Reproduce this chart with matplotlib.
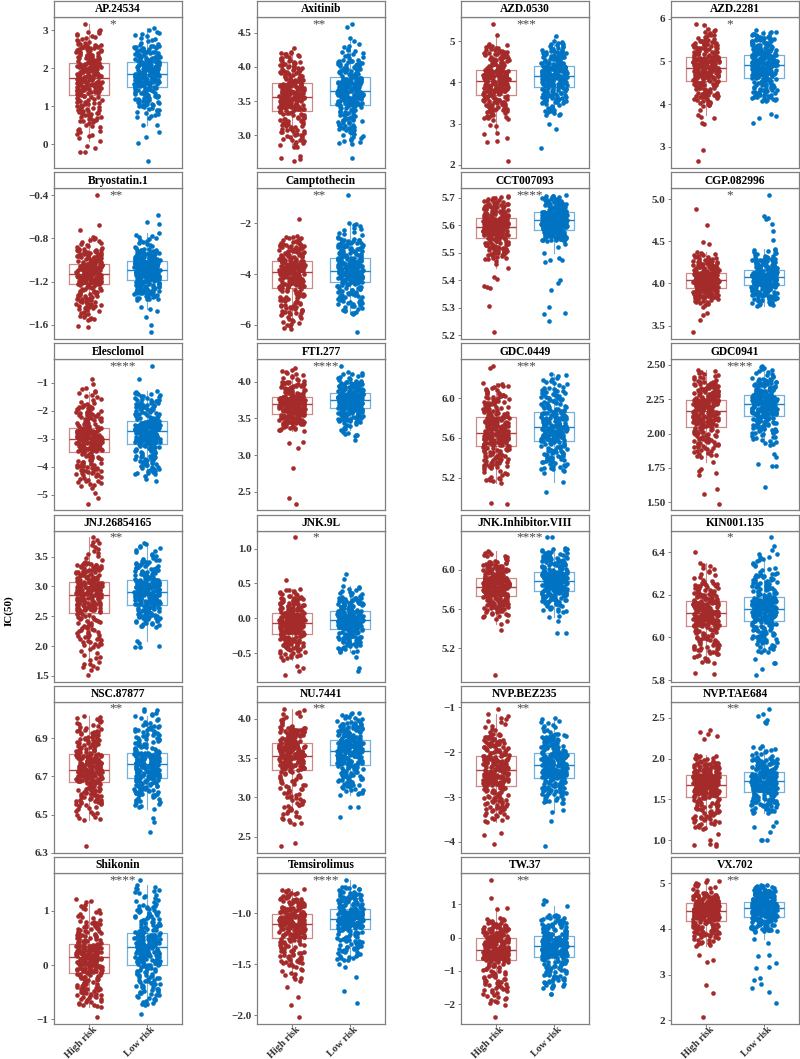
import numpy as np
import matplotlib
matplotlib.use("Agg")
import matplotlib.pyplot as plt
from matplotlib.transforms import ScaledTranslation

plt.rcParams['font.family'] = ['Liberation Serif', 'DejaVu Serif']

GROUPS = ["High risk", "Low risk"]
DRUGS = ["AP.24534", "Axitinib", "AZD.0530", "AZD.2281",
         "Bryostatin.1", "Camptothecin", "CCT007093", "CGP.082996",
         "Elesclomol", "FTI.277", "GDC.0449", "GDC0941",
         "JNJ.26854165", "JNK.9L", "JNK.Inhibitor.VIII", "KIN001.135",
         "NSC.87877", "NU.7441", "NVP.BEZ235", "NVP.TAE684",
         "Shikonin", "Temsirolimus", "TW.37", "VX.702"]
SIGNIF = ["*", "**", "***", "*", "**", "**", "****", "*",
          "****", "****", "***", "****", "**", "*", "****", "*",
          "**", "**", "**", "**", "****", "****", "**", "**"]

# estimated quantiles of each group: [low whisker, p5, Q1, median, Q3, p95, high whisker]
QUANT_PROBS = [0.0, 0.05, 0.25, 0.5, 0.75, 0.95, 1.0]
HIGH_Q = [
    [0.18, 0.6, 1.36, 1.75, 2.15, 2.65, 3.0],
    [2.82, 2.98, 3.38, 3.56, 3.76, 4.1, 4.22],
    [3.1, 3.3, 3.74, 4.04, 4.31, 4.75, 4.92],
    [3.95, 4.15, 4.59, 4.85, 5.10, 5.5, 5.75],
    [-1.56, -1.45, -1.22, -1.13, -1.04, -0.9, -0.79],
    [-6.1, -5.6, -4.52, -3.93, -3.50, -2.8, -2.5],
    [5.477, 5.5, 5.564, 5.597, 5.628, 5.68, 5.706],
    [3.75, 3.83, 3.95, 4.04, 4.12, 4.28, 4.37],
    [-4.69, -4.3, -3.42, -3.0, -2.62, -1.8, -1.19],
    [3.33, 3.42, 3.58, 3.70, 3.79, 4.0, 4.18],
    [5.15, 5.3, 5.53, 5.65, 5.81, 6.05, 6.15],
    [1.83, 1.9, 2.07, 2.17, 2.25, 2.38, 2.46],
    [1.6, 2.0, 2.58, 2.86, 3.08, 3.4, 3.78],
    [-0.57, -0.45, -0.21, -0.07, 0.07, 0.3, 0.42],
    [5.52, 5.6, 5.74, 5.83, 5.92, 6.08, 6.19],
    [5.88, 5.93, 6.055, 6.117, 6.173, 6.26, 6.35],
    [6.47, 6.55, 6.671, 6.736, 6.816, 6.95, 7.017],
    [2.66, 2.85, 3.36, 3.53, 3.69, 3.9, 4.13],
    [-3.55, -3.3, -2.72, -2.40, -2.08, -1.6, -1.16],
    [1.14, 1.25, 1.545, 1.68, 1.79, 1.95, 2.04],
    [-0.77, -0.6, -0.15, 0.14, 0.37, 0.8, 1.11],
    [-1.66, -1.5, -1.23, -1.10, -1.0, -0.85, -0.76],
    [-1.97, -1.6, -0.67, -0.37, -0.05, 0.4, 0.58],
    [3.65, 3.85, 4.21, 4.41, 4.56, 4.78, 5.07],
]
HIGH_OUT = [
    [3.17, 2.93, 0.1, -0.05, -0.1, -0.2, -0.2],
    [4.28, 2.70, 2.67, 2.65, 2.62],
    [5.42, 5.16, 2.96, 2.95, 2.77, 2.75, 2.65, 2.59, 2.55, 2.09],
    [5.88, 5.85, 3.85, 3.75, 3.7, 3.68, 3.55, 3.52, 2.93, 2.66],
    [-0.4, -0.68, -0.72, -1.61, -1.62],
    [-1.82, -6.16],
    [5.47, 5.46, 5.446, 5.41, 5.405, 5.38, 5.375, 5.37, 5.307, 5.21],
    [4.89, 4.70, 4.49, 4.47, 3.72, 3.65, 3.62, 3.57, 3.42],
    [-0.89, -1.05, -4.75, -4.95, -5.11, -5.32],
    [3.17, 3.18, 3.10, 2.83, 2.42, 2.34],
    [6.32, 6.30, 5.19, 5.18, 4.94, 4.95],
    [1.79, 1.74, 1.73, 1.71, 1.70, 1.595, 1.56, 1.49],
    [3.82, 1.52, 1.65, 1.7],
    [1.16, 0.55, -0.6, -0.68, -0.72, -0.75, -0.81],
    [5.5, 5.48, 5.45, 5.39, 4.93],
    [6.40, 5.83, 5.835],
    [6.336],
    [2.42, 2.38],
    [-1.03, -3.80, -3.85, -4.05],
    [2.35, 2.33, 2.30, 2.27, 2.24, 1.08, 1.0, 0.95, 0.94, 0.93, 0.95],
    [1.22, 1.18, 1.17, -0.96],
    [-1.72, -1.82, -1.90, -2.02],
    [1.73, 1.18, 0.88, 0.87, -2.04, -2.39],
    [3.62, 3.43, 3.32, 3.28, 2.77, 2.59, 2.07],
]
LOW_Q = [
    [0.7, 1.0, 1.55, 1.87, 2.17, 2.6, 3.0],
    [2.87, 3.05, 3.44, 3.64, 3.83, 4.1, 4.3],
    [3.22, 3.5, 3.92, 4.17, 4.41, 4.8, 5.0],
    [4.07, 4.2, 4.64, 4.92, 5.16, 5.55, 5.7],
    [-1.37, -1.32, -1.18, -1.09, -1.02, -0.9, -0.79],
    [-5.57, -5.2, -4.31, -3.87, -3.37, -2.6, -1.97],
    [5.543, 5.555, 5.591, 5.624, 5.648, 5.69, 5.71],
    [3.75, 3.82, 3.98, 4.07, 4.15, 4.3, 4.41],
    [-4.28, -4.0, -3.17, -2.73, -2.40, -1.6, -1.31],
    [3.26, 3.45, 3.64, 3.75, 3.84, 4.0, 4.13],
    [5.27, 5.35, 5.58, 5.71, 5.86, 6.1, 6.24],
    [1.92, 2.0, 2.14, 2.22, 2.285, 2.4, 2.49],
    [2.32, 2.45, 2.71, 2.91, 3.11, 3.45, 3.73],
    [-0.49, -0.38, -0.15, -0.03, 0.10, 0.3, 0.46],
    [5.57, 5.65, 5.79, 5.89, 5.98, 6.15, 6.22],
    [5.93, 5.98, 6.08, 6.133, 6.181, 6.3, 6.377],
    [6.54, 6.6, 6.70, 6.767, 6.823, 6.97, 7.055],
    [3.03, 3.15, 3.43, 3.59, 3.73, 3.95, 4.08],
    [-3.14, -2.95, -2.54, -2.27, -2.02, -1.6, -1.24],
    [1.33, 1.42, 1.61, 1.72, 1.83, 2.0, 2.15],
    [-0.74, -0.55, 0.0, 0.32, 0.56, 1.1, 1.39],
    [-1.46, -1.38, -1.14, -1.055, -0.96, -0.8, -0.73],
    [-1.52, -1.3, -0.57, -0.27, 0.01, 0.5, 0.68],
    [3.94, 4.02, 4.31, 4.47, 4.60, 4.85, 4.96],
]
LOW_OUT = [
    [3.05, 0.52, 0.5, 0.32, 0.2, 0.05, -0.44],
    [4.63, 4.59, 4.42, 4.38, 4.33, 2.67],
    [5.12, 3.3, 3.2, 2.98, 2.87, 2.41],
    [5.74, 3.76, 3.72, 3.68, 3.55],
    [-0.58, -0.65, -0.67, -0.75, -0.77, -0.78, -1.44, -1.45, -1.47, -1.53, -1.6, -1.67],
    [-0.89, -6.29],
    [5.53, 5.52, 5.498, 5.48, 5.475, 5.473, 5.465, 5.40, 5.39, 5.366, 5.304, 5.28, 5.275, 5.253],
    [5.05, 4.80, 4.78, 4.76, 4.71, 4.62, 4.52, 3.74, 3.73],
    [-0.42, -0.87, -4.35, -4.46, -4.52],
    [4.21, 3.28, 3.21],
    [5.25, 5.16, 5.06],
    [1.85, 1.83, 1.78, 1.76, 1.76, 1.61],
    [2.09, 2.05, 2.0, 1.98, 1.98],
    [0.64, 0.57, -0.56, -0.71, -0.76],
    [6.33, 6.33, 5.53, 5.52, 5.48, 5.36, 5.36],
    [6.47, 6.43, 6.41, 6.39, 6.39, 6.38, 5.897, 5.88, 5.88, 5.853, 5.825],
    [6.53, 6.48, 6.46, 6.41],
    [2.88, 2.87, 2.75],
    [-3.33, -3.3, -3.53, -4.09],
    [2.61, 2.55, 2.52, 2.47, 2.45, 2.44, 1.22, 1.17, 1.16, 1.1, 1.0, 1.0, 1.0],
    [1.57, 1.47, 1.43, 1.42, 1.40, -0.91],
    [-0.67, -1.5, -1.53, -1.63, -1.76, -1.88],
    [1.11, 1.12, 1.0, 0.95, -1.70, -1.70],
    [3.78, 3.70, 3.43, 3.40, 3.25, 3.17, 3.15, 2.92, 2.88, 2.80, 2.70, 2.62, 2.37],
]
YTICKS = [
    ["0", "1", "2", "3"], ["3.0", "3.5", "4.0", "4.5"], ["2", "3", "4", "5"], ["3", "4", "5", "6"],
    ["-1.6", "-1.2", "-0.8", "-0.4"], ["-6", "-4", "-2"], ["5.2", "5.3", "5.4", "5.5", "5.6", "5.7"],
    ["3.5", "4.0", "4.5", "5.0"],
    ["-5", "-4", "-3", "-2", "-1"], ["2.5", "3.0", "3.5", "4.0"], ["5.2", "5.6", "6.0"],
    ["1.50", "1.75", "2.00", "2.25", "2.50"],
    ["1.5", "2.0", "2.5", "3.0", "3.5"], ["-0.5", "0.0", "0.5", "1.0"], ["5.2", "5.6", "6.0"],
    ["5.8", "6.0", "6.2", "6.4"],
    ["6.3", "6.5", "6.7", "6.9"], ["2.5", "3.0", "3.5", "4.0"], ["-4", "-3", "-2", "-1"],
    ["1.0", "1.5", "2.0", "2.5"],
    ["-1", "0", "1"], ["-2.0", "-1.5", "-1.0"], ["-2", "-1", "0", "1"], ["2", "3", "4", "5"],
]

COLORS = ["#A52A2A", "#0073C2"]
N_CORE = 250
W, H = 800, 1059
COL_LEFT = [54, 257, 461, 671]
PANEL_W = 128
ROW_PITCH = 171.2
STRIP_H = 16
PANEL_H = 151
BORDER = "#7f7f7f"


def group_values(q, extra):
    p = np.linspace(0, 1, N_CORE)
    core = np.interp(p, QUANT_PROBS, q)
    return np.concatenate([core, np.asarray(extra, float)])


rng = np.random.default_rng(11)
fig = plt.figure(figsize=(W / 100, H / 100), dpi=100)

for i, drug in enumerate(DRUGS):
    r, c = divmod(i, 4)
    top = 1 + ROW_PITCH * r
    left = COL_LEFT[c]
    ax = fig.add_axes([left / W, 1 - (top + STRIP_H + PANEL_H) / H, PANEL_W / W, PANEL_H / H])
    sax = fig.add_axes([left / W, 1 - (top + STRIP_H) / H, PANEL_W / W, STRIP_H / H])
    sax.set_xticks([]); sax.set_yticks([])
    for sp in sax.spines.values():
        sp.set_color(BORDER); sp.set_linewidth(0.9)
    sax.text(0.5, 0.47, drug, ha='center', va='center', fontsize=8.3, fontweight='bold',
             color='black', transform=sax.transAxes)

    groups = [group_values(HIGH_Q[i], HIGH_OUT[i]), group_values(LOW_Q[i], LOW_OUT[i])]
    for g, vals in enumerate(groups):
        xj = (g + 1) + rng.uniform(-0.22, 0.22, len(vals))
        ax.scatter(xj, vals, s=11, color=COLORS[g], linewidths=0, zorder=2)
    bp = ax.boxplot(groups, positions=[1, 2], widths=0.7, showfliers=False,
                    manage_ticks=False, whis=1.5)
    for g in range(2):
        col = COLORS[g]
        bp['boxes'][g].set(color=col, alpha=0.55, linewidth=0.9, zorder=3)
        bp['medians'][g].set(color=col, alpha=0.9, linewidth=1.0, zorder=3)
        for k in (2 * g, 2 * g + 1):
            bp['whiskers'][k].set(color=col, alpha=0.55, linewidth=0.8, zorder=3)
            bp['caps'][k].set_visible(False)

    ax.set_xlim(0.4, 2.6)
    ax.margins(y=0.05)
    ax.autoscale(axis='y')
    ymax = max(v.max() for v in groups)
    ax.text(1.36, ymax, SIGNIF[i], ha='left', va='center', fontsize=9.5, color='#444444')

    ticks = [float(t) for t in YTICKS[i]]
    ax.set_yticks(ticks)
    ax.set_yticklabels([t.replace('-', '\u2212') for t in YTICKS[i]])
    ax.tick_params(axis='y', length=2.5, width=0.7, color=BORDER, pad=1.5,
                   labelsize=8, labelcolor='#333333')
    for lab in ax.get_yticklabels():
        lab.set_fontweight('bold')
    ax.set_xticks([1, 2])
    ax.set_xticklabels([])
    if r == 5:
        ax.tick_params(axis='x', length=2, width=0.7, color=BORDER)
        off = ScaledTranslation(8 / 100, -6 / 100, fig.dpi_scale_trans)
        for g, name in enumerate(GROUPS):
            ax.text(g + 1, 0, name, transform=ax.get_xaxis_transform() + off,
                    rotation=45, ha='right', va='baseline', rotation_mode='anchor',
                    fontsize=7.3, fontweight='bold', color='#333333')
    else:
        ax.tick_params(axis='x', length=0)
    for sp in ax.spines.values():
        sp.set_color(BORDER); sp.set_linewidth(0.9)

fig.text(9 / W, 1 - 611 / H, "IC(50)", rotation=90, ha='center', va='center',
         fontsize=8, fontweight='bold', color='black')

fig.savefig("out.png", dpi=100)
